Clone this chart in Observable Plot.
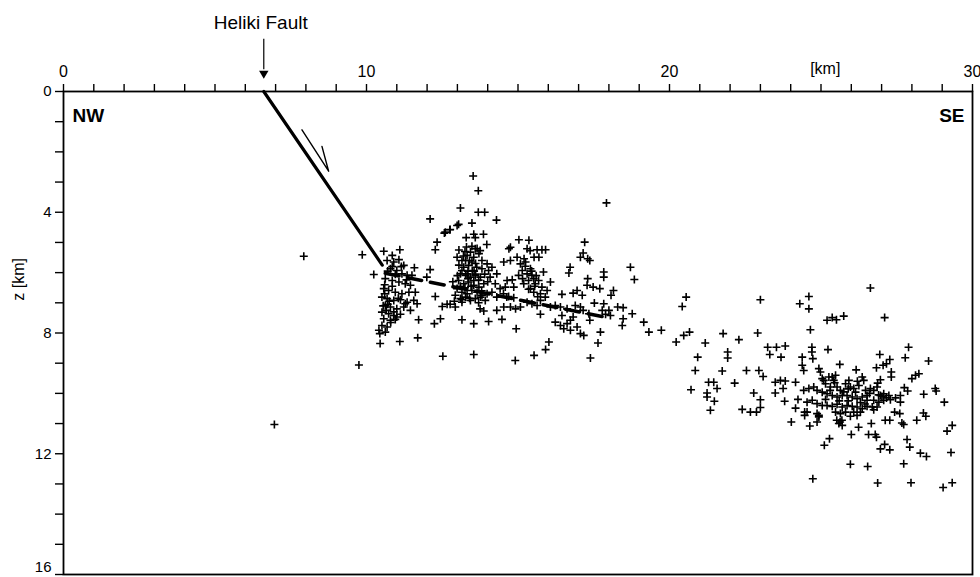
<!DOCTYPE html>
<html><head><meta charset="utf-8">
<script src="https://cdn.jsdelivr.net/npm/d3@7"></script>
<script src="https://cdn.jsdelivr.net/npm/@observablehq/plot@0.6"></script>
<style>html,body{margin:0;padding:0;background:#fff;overflow:hidden}</style>
</head><body><div id="chart"></div>
<script>
// Tick values
const xMinorTicks = d3.range(0, 31);
const xLabelTicks = [0, 10, 20, 30];
const zMinorTicks = d3.range(0, 17);
const zLabelTicks = [0, 4, 8, 12];
const zBottomLabel = [16];

// Fault geometry [x km, z km]
const faultTrace = [[6.61, 0], [10.52, 5.75]];
const detachment = [[10.62, 6.02], [18.0, 7.5]];
const slipArrow = [[7.87, 1.27], [8.75, 2.64], [8.53, 1.82]];
const faultLabel = [{x: 6.61, text: "Heliki Fault"}];

// Hypocentres [x km, z km]
const westEvents = [
[7.93,5.46],[6.96,11.03],[9.75,9.06],[9.86,5.41],[10.57,5.29],[10.85,5.43],[11.1,5.24],[10.24,6.06],[11.58,5.84],[12.1,5.9],[11.99,6.15],
[10.68,5.6],[10.9,5.65],[11.07,5.57],[11.23,5.76],[10.79,5.87],[11.0,5.93],[11.17,6.04],[11.34,6.09],[10.62,6.2],[10.85,6.26],[11.07,6.31],[11.28,6.37],[11.45,6.42],[10.57,6.53],[10.73,6.59],[10.95,6.65],[11.17,6.7],[11.4,6.65],[10.51,6.81],[10.68,6.86],[10.9,6.92],[11.12,6.9],[11.34,6.98],[11.56,6.92],[10.62,7.09],[10.79,7.14],[11.0,7.2],[11.23,7.14],[10.51,7.31],[10.73,7.36],[10.9,7.42],[11.12,7.38],[10.57,7.53],[10.79,7.58],[11.0,7.47],[10.51,7.75],[10.68,7.8],[10.41,7.91],[10.62,7.97],[11.45,7.25],[11.28,7.03],[11.67,7.03],[11.72,7.56],[10.45,8.35],[10.44,8.02],[11.1,8.28],[11.69,8.16],[11.61,6.65],[11.5,6.09],[11.32,6.24],
[10.7,5.95],[10.85,6.45],[10.95,6.05],[10.6,6.7],[10.75,6.95],[10.9,7.3],[10.65,7.25],[10.8,7.65],[10.55,7.1],[11.05,6.85],[10.95,7.55],[10.7,7.05],[10.85,5.8],[11.15,5.8],[10.6,6.4]
];
const centralEvents = [
[12.1,4.22],[12.57,4.69],[12.75,4.58],[12.33,4.99],[12.27,5.24],
[13.52,2.8],[13.69,3.29],[13.1,3.86],[13.69,4.0],[13.9,4.0],[14.29,4.26],[12.99,4.44],[13.04,4.4],[12.76,4.57],[12.6,4.66],[13.48,4.36],[13.54,4.73],[13.59,4.84],[13.86,4.73],[13.29,4.84],[13.97,5.07],[13.59,5.21],[13.48,5.13],[13.75,5.27],
[12.99,5.49],[13.15,5.6],[13.32,5.43],[13.43,5.32],[13.54,5.49],[13.71,5.37],[13.81,5.6],[13.98,5.71],[13.21,5.82],[13.37,5.76],[13.49,5.93],[13.64,5.82],[13.81,5.87],[14.03,5.93],[13.1,6.04],[13.27,6.09],[13.43,6.15],[13.59,6.09],[13.76,6.15],[13.04,6.26],[13.21,6.37],[13.37,6.31],[13.54,6.42],[13.71,6.48],[13.87,6.37],[12.99,6.53],[13.15,6.65],[13.32,6.7],[13.48,6.59],[13.65,6.65],[13.81,6.75],[13.98,6.7],[14.14,6.65],[12.93,6.75],[13.1,6.86],[13.27,6.81],[13.43,6.92],[13.59,6.86],[13.76,6.81],[13.92,6.92],[13.27,5.6],[13.48,5.65],[13.15,5.93],[13.32,6.04],[13.54,6.26],[14.14,5.82],[14.08,6.15],[14.3,6.04],[14.25,6.37],[14.41,6.53],[14.3,6.81],[14.52,6.7],[14.63,6.81],
[12.27,6.79],[12.24,7.69],[12.44,7.53],[12.5,7.12],[12.66,7.05],[12.76,7.05],[12.52,8.77],[13.54,8.71],[13.15,7.56],[13.54,7.69],[14.03,7.62],[14.47,7.55],[12.93,7.14],[13.15,6.98],[13.75,7.2],[13.87,7.27],[14.3,7.25],[14.53,7.14],
[13.05,5.75],[13.2,5.45],[13.35,5.95],[13.6,5.7],[13.45,6.45],[13.25,6.5],[13.7,6.25],[13.0,6.1],[13.1,6.45],[13.35,6.2],[13.6,6.05],[13.8,6.6],[13.9,6.05],[13.05,5.25],[13.3,5.15],[13.15,6.9],[13.7,7.0],[14.0,6.3],[12.85,6.3],[12.9,6.95],[13.4,6.85],[13.55,5.95],[13.25,5.3],[13.65,5.2],[13.4,5.6]
];
const midEvents = [
[17.92,3.69],[17.2,4.99],[17.15,5.35],[17.06,5.49],[17.3,5.54],[17.37,5.6],[18.71,5.82],[18.84,6.23],[17.83,5.98],[17.83,6.15],[16.72,5.82],[16.68,6.01],[17.3,6.2],[17.28,6.42],[17.48,6.48],[17.7,6.53],[18.15,6.59],[18.07,6.75],[16.95,6.59],[16.82,6.68],[17.12,6.75],[16.45,6.72],[17.52,7.01],[17.83,7.03],[17.78,7.25],[18.0,7.25],[17.89,7.38],[18.05,7.42],[18.29,7.14],[18.47,7.16],[18.77,7.36],[19.15,7.64],[19.32,7.97],[19.73,7.91],[18.47,7.53],[18.44,7.75],[17.72,7.97],[17.64,8.33],[17.39,8.83],[17.37,7.58],[17.34,7.36],[17.15,7.25],[17.06,7.14],[16.89,7.09],[16.82,7.47],[16.73,7.58],[16.62,7.69],[16.73,7.91],[16.95,7.8],[17.06,8.02],[17.17,8.08],[16.45,7.42],[16.23,7.64],[16.4,7.75],[16.51,7.86],[16.23,7.09],[16.07,7.14],[16.4,7.14],[16.62,7.2],[16.02,8.3],[15.91,8.55],[15.53,8.74],[14.91,8.91],[14.94,7.86],[15.74,7.38],
[15.03,4.91],[15.36,4.93],[15.3,5.21],[14.7,5.21],[14.75,5.16],[15.4,5.27],[15.63,5.24],[15.79,5.24],[15.91,5.24],[15.69,5.49],[15.53,5.49],[15.2,5.54],[14.97,5.49],[14.75,5.6],[14.53,5.65],[15.08,5.71],[15.24,5.79],[15.41,5.87],[15.14,5.93],[15.3,6.04],[15.46,6.09],[15.02,6.09],[15.52,6.2],[15.35,6.26],[15.68,6.26],[15.19,6.37],[15.57,6.37],[15.79,6.48],[15.41,6.53],[15.84,5.98],[16.07,6.31],[15.96,6.59],[15.74,6.7],[15.52,6.65],[14.64,6.26],[14.81,6.24],[14.58,6.48],[14.86,6.48],[14.69,6.79],[14.86,6.83],[15.3,6.98],[15.46,7.03],[15.63,7.09],[14.75,7.14],[14.92,7.2],[15.08,7.14],[15.74,6.92],[15.9,6.81],
[15.25,5.65],[15.45,5.95],[15.6,6.1],[15.35,6.55],[15.15,6.2],[15.65,6.8],[15.55,6.45]
];
const eastEvents = [
[20.55,6.81],[20.42,7.12],[20.22,8.3],[20.47,8.08],[20.66,7.97],[21.18,8.33],[21.77,8.02],[22.29,8.22],[22.91,8.0],[23.0,6.9],[24.3,7.03],[24.6,6.79],[24.6,7.2],[20.93,8.8],[20.85,9.24],[20.71,9.88],[21.29,9.63],[21.46,9.63],[21.24,9.99],[21.24,10.12],[21.57,9.84],[21.48,10.26],[21.35,10.56],[21.92,8.63],[21.92,8.83],[21.74,9.26],[22.15,9.66],[22.54,9.24],[22.95,9.24],[23.09,9.44],[22.78,9.99],[23.0,10.21],[23.0,10.47],[22.4,10.53],[22.67,10.62],[22.87,10.62],[23.24,8.47],[23.53,8.47],[23.82,8.43],[23.31,8.71],[23.68,8.8],[23.49,9.63],[23.66,9.57],[23.82,9.59],[23.49,9.99],[23.75,9.84],[23.8,10.26],[24.16,9.63],[24.24,10.2],[24.16,10.49],[24.02,10.95],[24.46,10.62],[24.46,10.73],[24.38,8.8],[24.38,9.07],[24.43,9.24],
[26.63,6.51],[24.65,7.89],[25.2,7.58],[25.37,7.49],[25.51,7.56],[25.75,7.44],[27.1,7.49],[24.7,8.47],[24.7,8.63],[24.73,8.85],[25.23,8.55],[25.62,9.04],[27.89,8.47],[27.78,8.82],[28.55,8.93],[26.94,8.71],[27.05,9.07],[27.16,9.02],[27.27,8.88],[27.32,9.29],[27.32,9.46],[26.83,9.15],[26.16,9.22],[26.96,9.55],[26.87,9.66],[28.0,9.51],[28.12,9.4],[28.23,9.35],[27.75,9.81],[27.86,9.92],[28.77,9.84],[28.8,9.92],[28.39,10.03],[29.07,10.29],[27.62,10.07],[27.62,10.29],[27.46,10.15],[27.29,10.21],[27.16,10.15],[27.01,10.1],[27.43,10.62],[27.6,10.67],[27.12,10.89],[27.27,10.89],[27.67,10.98],[27.73,11.03],[28.16,10.89],[28.38,10.65],[28.46,10.76],[29.33,11.06],[29.16,11.25],[29.29,11.96],[28.28,11.98],[28.48,12.09],[27.84,11.53],[27.93,11.78],[27.73,12.33],[27.97,12.96],[29.03,13.12],[29.33,12.96],[26.87,12.97],[26.54,12.42],[25.97,12.35],[24.73,12.83],[26.96,11.84],[27.1,11.69],[27.27,11.87],[26.57,11.36],[26.79,11.36],[26.83,11.45],[26.0,11.36],[25.28,11.5],[25.11,11.72],[26.24,11.12],[26.66,11.0],[24.63,11.08],[24.87,10.95],[24.93,10.73],[25.52,10.89],[25.63,10.95],[25.69,10.89],[26.19,10.73],[26.08,10.62],[26.69,10.45],[26.74,10.54],
[24.93,9.18],[24.98,9.29],[25.04,9.51],[25.09,9.57],[25.15,9.68],[25.26,9.46],[25.37,9.46],[25.42,9.57],[25.48,9.4],[25.31,9.79],[25.53,9.79],[25.64,9.9],[25.81,9.68],[25.92,9.57],[25.97,9.79],[26.08,9.84],[26.14,9.96],[26.25,9.74],[26.36,9.46],[26.41,9.57],[26.47,9.9],[26.63,9.84],[26.74,9.9],[26.85,9.79],[26.96,10.07],[27.07,10.01],[27.24,10.07],[26.52,10.07],[26.36,10.12],[26.19,10.18],[26.03,10.12],[25.86,10.07],[25.7,10.07],[25.53,10.12],[25.37,10.07],[25.2,10.01],[25.04,9.96],[24.87,9.9],[24.76,9.79],[24.6,9.84],[24.43,9.9],[24.54,10.29],[24.71,10.23],[24.87,10.34],[25.04,10.4],[25.2,10.4],[25.37,10.43],[25.53,10.36],[25.7,10.45],[25.86,10.4],[26.03,10.43],[26.19,10.45],[26.36,10.51],[26.52,10.43],[26.85,10.45],[24.54,10.62],[24.87,10.67],[24.93,10.78],[25.48,10.62],[25.64,10.67],[25.81,10.62],[25.97,10.76],[26.3,10.62],[25.59,11.0],[25.7,11.06],[26.52,10.23],[26.74,10.23],[26.91,10.29],[27.07,10.23],
[25.3,9.9],[25.75,9.95],[25.9,10.25],[26.3,10.3],[26.6,10.0],[25.6,10.25],[26.2,9.6],[25.15,10.2],[26.9,10.05],[25.45,9.65],[26.45,10.35],[25.9,9.85]
];

const events = [...westEvents, ...centralEvents, ...midEvents, ...eastEvents];
const font = "'Liberation Sans', Arial, Helvetica, sans-serif";

const chart = Plot.plot({
  width: 980,
  height: 577,
  marginTop: 91,
  marginBottom: 3,
  marginLeft: 63,
  marginRight: 8,
  style: {fontFamily: font, fontSize: "16px", color: "black", background: "white", overflow: "visible"},
  x: {domain: [0, 30]},
  y: {domain: [0, 16], reverse: true},
  marks: [
    Plot.axisX({anchor: "top", ticks: xMinorTicks, tickSize: 8, tickPadding: 7, strokeWidth: 1.4,
      tickFormat: d => xLabelTicks.includes(d) ? String(d) : "", fontSize: 16, label: null}),
    Plot.axisY({anchor: "left", ticks: zMinorTicks, tickSize: 8, tickPadding: 4, strokeWidth: 1.4,
      tickFormat: d => zLabelTicks.includes(d) ? String(d) : "", fontSize: 15, label: null}),
    Plot.text(zBottomLabel, {frameAnchor: "left", y: d => d, text: d => String(d), dx: -12, dy: -3,
      textAnchor: "end", lineAnchor: "bottom", fontSize: 15}),
    Plot.frame({stroke: "black", strokeWidth: 1.8}),
    Plot.dot(events, {x: d => d[0], y: d => d[1], symbol: "plus", r: 2.7, stroke: "black", strokeWidth: 1.6}),
    Plot.line(faultTrace, {x: d => d[0], y: d => d[1], stroke: "black", strokeWidth: 3.2}),
    Plot.line(detachment, {x: d => d[0], y: d => d[1], stroke: "black", strokeWidth: 3.6, strokeDasharray: "14,9"}),
    Plot.line(slipArrow, {x: d => d[0], y: d => d[1], stroke: "black", strokeWidth: 1.4}),
    Plot.ruleX(faultLabel, {x: "x", y1: -1.73, y2: -0.72, stroke: "black", strokeWidth: 1.2}),
    Plot.dot(faultLabel, {x: "x", y: -0.6, symbol: "triangle2", r: 4.5, fill: "black", rotate: 180}),
    Plot.text(faultLabel, {x: d => d.x - 0.1, y: 0, text: "text", dy: -69, fontSize: 19}),
    Plot.text(["[km]"], {x: 25.14, y: 0, text: d => d, dy: -23, fontSize: 16}),
    Plot.text(["NW"], {frameAnchor: "top-left", text: d => d, dx: 9, dy: 17, textAnchor: "start", fontWeight: "bold", fontSize: 19}),
    Plot.text(["SE"], {frameAnchor: "top-right", text: d => d, dx: -8, dy: 17, textAnchor: "end", fontWeight: "bold", fontSize: 19}),
    Plot.text(["z [km]"], {frameAnchor: "left", y: 6.93, text: d => d, dx: -45, rotate: -90, fontSize: 16})
  ]
});
document.getElementById("chart").appendChild(chart);
</script>
</body></html>
